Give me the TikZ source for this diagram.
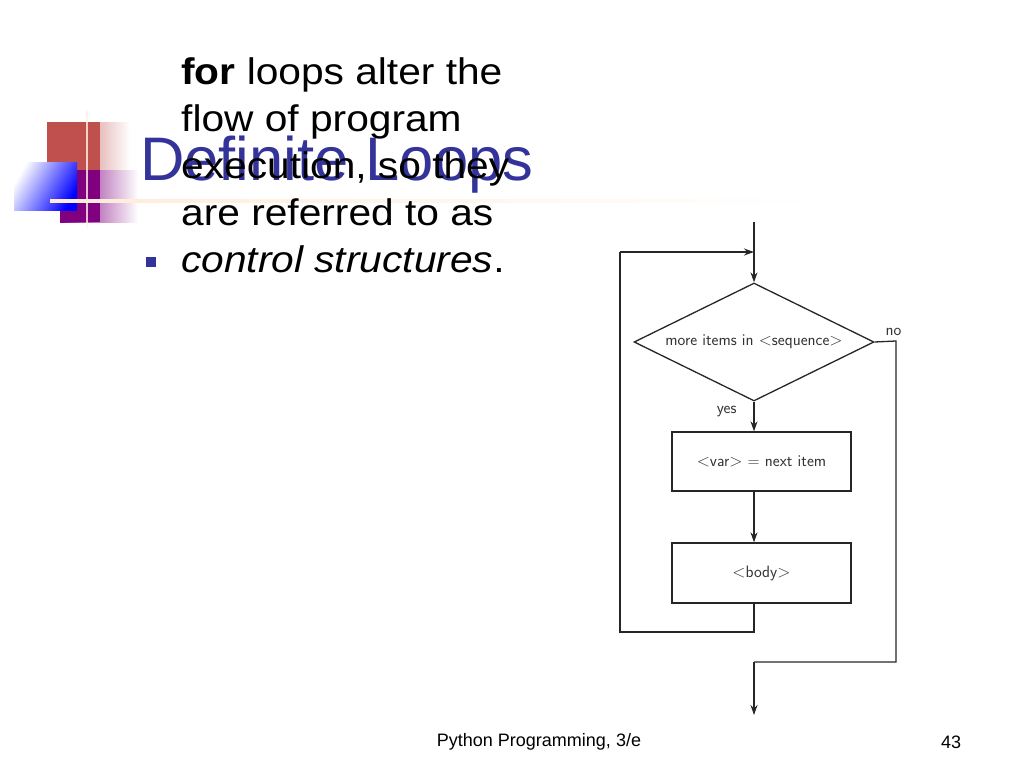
\documentclass[tikz,border=0pt]{standalone}
\usepackage{fontspec}
\setmainfont{Liberation Sans}
\newfontfamily\bodyf[FakeStretch=1.1]{Liberation Sans}
\usetikzlibrary{arrows.meta,shapes.geometric}
\definecolor{ttl}{RGB}{51,51,153}
\definecolor{lred}{RGB}{192,80,77}
\definecolor{lpur}{RGB}{128,0,128}
\tikzset{ln/.style={line width=1.3pt,black!85},
 arr/.style={ln,-{Stealth[length=10pt,width=7pt]}},
 fc/.style={font=\sffamily\fontsize{16.5}{18}\selectfont,text=black!80}}
\begin{document}
\begin{tikzpicture}[x=1pt,y=-1pt]
\useasboundingbox (0,0) rectangle (1024,768);
% logo
\shade[left color=lred,right color=white] (47,122) rectangle (130,190);
\fill[lred] (47,122) rectangle (100,190);
\shade[left color=lpur,right color=white] (60,170) rectangle (138,222);
\fill[lpur] (60,170) rectangle (100,222);
\shade[left color=white,right color=blue,shading angle=60] (14,162) rectangle (77,210);
\draw[white!90!orange,line width=2pt,opacity=.8] (87,110) -- (87,228);
\shade[left color=white!85!orange,right color=white] (50,199) rectangle (820,202);
% title
\node[anchor=base west,inner sep=0,text=ttl,font=\fontsize{61.5}{63}\selectfont] (title) at (140,180) {Definite Loops};
% bullet
\fill[ttl] (146,257) rectangle (156,267) coordinate (bul);
\node[anchor=base west,inner sep=0,align=left,font=\bodyf\fontsize{37}{47}\selectfont] (body) at (181,272)
 {\textbf{for} loops alter the\\flow of program\\execution, so they\\are referred to as\\\textit{control structures}.};
% flowchart
\coordinate (top) at (754,222);
\coordinate (join) at (754,252);
\coordinate (lt) at (620,252);
\coordinate (lb) at (620,632);
\coordinate (mb) at (754,632);
\coordinate (r1) at (896,341);
\coordinate (r2) at (896,662);
\coordinate (m2) at (754,662);
\coordinate (out) at (754,715);
\node[ln,draw,diamond,aspect=2,minimum width=240,minimum height=118,inner sep=0,fc] (dec) at (754,342) {more items in $<$sequence$>$};
\node[ln,draw,minimum width=179,minimum height=59,fc] (b1) at (761.5,461.5) {$<$var$>$ = next item};
\node[ln,draw,minimum width=179,minimum height=60,fc] (b2) at (761.5,573) {$<$body$>$};
\draw[ln] (top) -- (join);
\draw[arr] (join) -- (dec.north);
\draw[arr] (dec.south) -- (dec.south|-b1.north);
\draw[arr] (b1.south-|dec) -- (b2.north-|dec);
\draw[ln] (b2.south-|dec) -- (mb) -- (lb) -- (lt);
\draw[arr] (lt) -- (join);
\draw[ln] (dec.east) -- (r1) -- (r2) -- (m2);
\draw[arr] (m2) -- (out);
\node[fc,anchor=south west] (no) at (882,339) {no};
\node[fc,anchor=east] (yes) at (740,412) {yes};
% footer
\node[font=\fontsize{18}{20}\selectfont] (foot) at (539,742) {Python Programming, 3/e};
\node[font=\fontsize{18}{20}\selectfont] (pg) at (951,742) {43};
\end{tikzpicture}
\end{document}
